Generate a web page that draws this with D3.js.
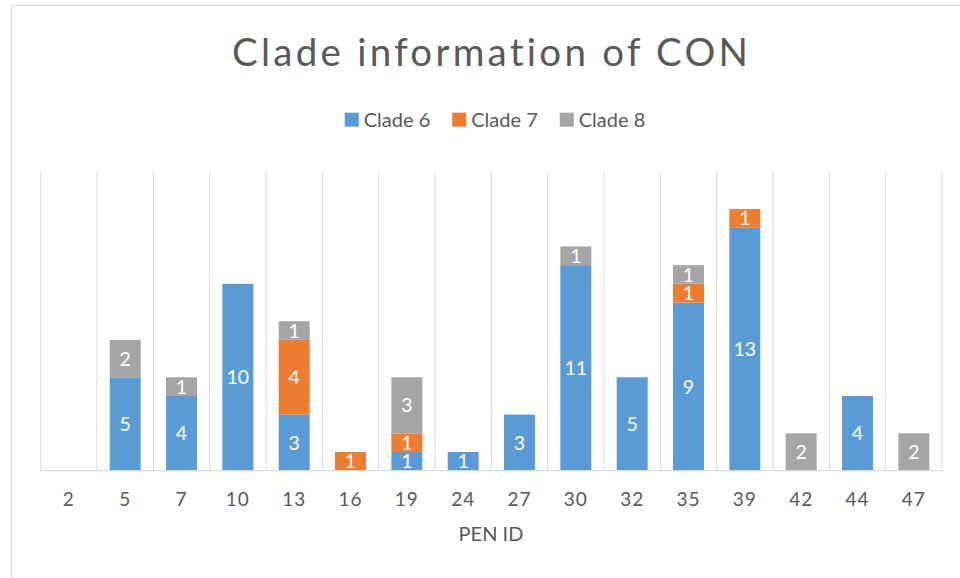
<!DOCTYPE html>
<html>
<head>
<meta charset="utf-8">
<script src="https://cdn.jsdelivr.net/npm/d3@7"></script>
<style>
  html, body { margin: 0; padding: 0; background: #fff; }
  svg { display: block; font-family: Lato, "Open Sans", sans-serif; font-variant-ligatures: none; }
</style>
</head>
<body>
<svg id="chart" width="960" height="578"></svg>
<script>
// ---- data ----
const categories = ["2","5","7","10","13","16","19","24","27","30","32","35","39","42","44","47"];
const seriesNames = ["Clade 6","Clade 7","Clade 8"];
const clade6 = [0,5,4,10,3,0,1,1,3,11,5,9,13,0,4,0];
const clade7 = [0,0,0,0,4,1,1,0,0,0,0,1,1,0,0,0];
const clade8 = [0,2,1,0,1,0,3,0,0,1,0,1,0,2,0,2];
const colors = ["#5B9BD5","#ED7D31","#A5A5A5"];
const titleText = "Clade information of CON";
const xTitle = "PEN ID";
const yMax = 16;

(function(){
const rows = categories.map((c,i) => ({cat:c, "Clade 6":clade6[i], "Clade 7":clade7[i], "Clade 8":clade8[i]}));

const svg = d3.select("#chart");

// chart border
svg.append("rect").attr("x",11.5).attr("y",5.5).attr("width",1200).attr("height",1200)
  .attr("fill","none").attr("stroke","#D9D9D9").attr("stroke-width",1);

const pL = 40.7, pR = 942, pT = 171.7, pB = 470.7;

const x = d3.scaleBand().domain(categories).range([pL,pR]).paddingInner(0.45).paddingOuter(0.225);
const y = d3.scaleLinear().domain([0,yMax]).range([pB,pT]);
const step = x.step();

// vertical gridlines at category boundaries
const g = svg.append("g");
g.selectAll("line.grid").data(d3.range(categories.length+1)).join("line")
  .attr("class","grid")
  .attr("x1",i=>pL+i*step).attr("x2",i=>pL+i*step)
  .attr("y1",pT).attr("y2",pB)
  .attr("stroke","#D9D9D9").attr("stroke-width",1);

// bars
const stack = d3.stack().keys(seriesNames)(rows);
const layer = g.selectAll("g.layer").data(stack).join("g")
  .attr("class","layer").attr("fill",(d,i)=>colors[i]);
layer.selectAll("rect").data(d=>d.filter(s=>s[1]-s[0]>0)).join("rect")
  .attr("x",d=>x(d.data.cat)).attr("width",x.bandwidth())
  .attr("y",d=>y(d[1])).attr("height",d=>y(d[0])-y(d[1]));

// data labels
layer.selectAll("text").data(d=>d.filter(s=>s[1]-s[0]>0)).join("text")
  .attr("x",d=>x(d.data.cat)+x.bandwidth()/2)
  .attr("y",d=>(y(d[0])+y(d[1]))/2)
  .attr("dy","0.36em")
  .attr("text-anchor","middle")
  .attr("fill","#fff").attr("font-size",19.5)
  .text(d=>d[1]-d[0]);

// baseline
g.append("line").attr("x1",pL).attr("x2",pR).attr("y1",pB).attr("y2",pB)
  .attr("stroke","#D9D9D9").attr("stroke-width",1.3);

// x axis
const ax = svg.append("g").attr("transform",`translate(0,${pB})`)
  .call(d3.axisBottom(x).tickSize(0).tickPadding(21.5));
ax.select(".domain").remove();
ax.selectAll("text").attr("font-size",19).attr("fill","#595959")
  .attr("font-family","Lato, sans-serif").style("letter-spacing","1px");

// axis title
svg.append("text").attr("x",491).attr("y",541).attr("text-anchor","middle")
  .attr("font-size",20).attr("fill","#595959").text(xTitle);

// title
svg.append("text").attr("x",490).attr("y",66).attr("text-anchor","middle")
  .attr("font-size",38.5).attr("fill","#595959")
  .attr("textLength",516).attr("lengthAdjust","spacing")
  .text(titleText);

// legend
const leg = svg.append("g");
const items = leg.selectAll("g").data(seriesNames).join("g");
items.append("rect").attr("width",14).attr("height",14).attr("y",112.7).attr("fill",(d,i)=>colors[i]);
items.append("text").attr("x",19).attr("y",126.7).attr("font-size",20).attr("fill","#595959").text(d=>d);
const widths = [];
items.each(function(){ widths.push(19 + this.querySelector("text").getComputedTextLength()); });
const gap = 22;
const total = d3.sum(widths) + gap*(widths.length-1);
let start = 495 - total/2;
items.attr("transform",(d,i)=>{ const t = `translate(${start},0)`; start += widths[i]+gap; return t; });
})();
</script>
</body>
</html>
